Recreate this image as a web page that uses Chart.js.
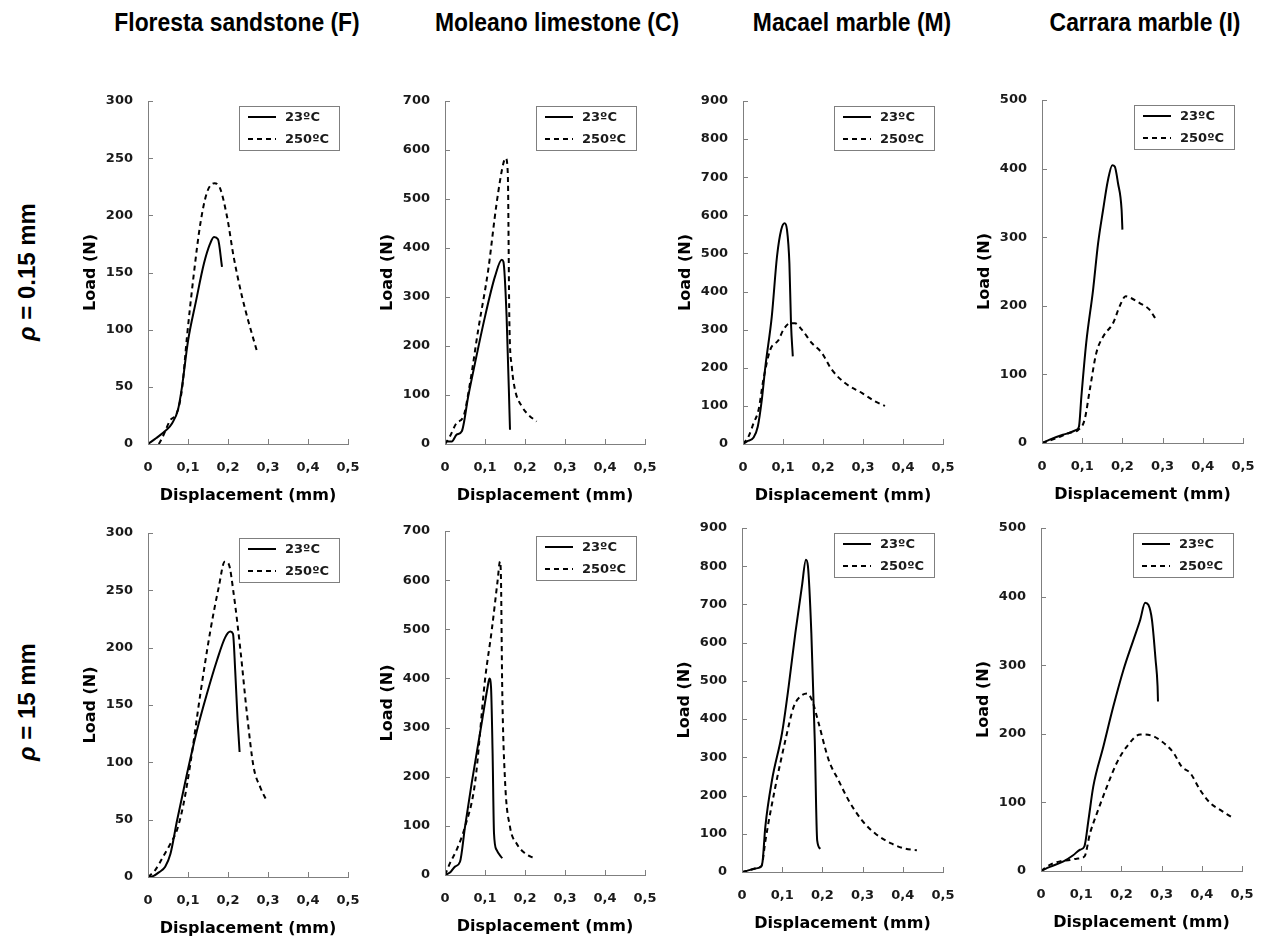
<!DOCTYPE html>
<html>
<head>
<meta charset="utf-8">
<script src="https://cdn.jsdelivr.net/npm/chart.js@4.4.1/dist/chart.umd.min.js"></script>
<style>
  html, body { margin: 0; padding: 0; background: #fff; overflow: hidden; }
  body { width: 1264px; height: 940px; position: relative; }
  canvas { position: absolute; }
  .colTitle, .rowTitle {
    position: absolute; white-space: nowrap; color: #000; font-weight: bold;
  }
  .colTitle {
    font-family: "Liberation Sans Narrow", "Liberation Sans", Arial, sans-serif; font-size: 26px;
    transform: translate(-50%, -50%) scaleX(0.88);
  }
  .rowTitle {
    font-family: "Liberation Sans", Arial, sans-serif; font-size: 24px;
    transform: translate(-50%, -50%) rotate(-90deg);
  }
</style>
</head>
<body>
<div class="colTitle" style="left:237px; top:22px;">Floresta sandstone (F)</div>
<div class="colTitle" style="left:557px; top:22px;">Moleano limestone (C)</div>
<div class="colTitle" style="left:852px; top:22px;">Macael marble (M)</div>
<div class="colTitle" style="left:1145px; top:22px;">Carrara marble (I)</div>
<div class="rowTitle" style="left:27px; top:272px;"><i>ρ</i> = 0.15 mm</div>
<div class="rowTitle" style="left:27px; top:702px;"><i>ρ</i> = 15 mm</div>

<canvas id="c1"></canvas><canvas id="c2"></canvas><canvas id="c3"></canvas><canvas id="c4"></canvas>
<canvas id="c5"></canvas><canvas id="c6"></canvas><canvas id="c7"></canvas><canvas id="c8"></canvas>

<script>
"use strict";

// DATA ----------------------------
const seriesLabels = ["23ºC", "250ºC"];
const xTicks = [0, 0.1, 0.2, 0.3, 0.4, 0.5];
const yMax = [300, 700, 900, 500];
const yStep = [50, 100, 100, 100];

// rho = 0.15 mm  ([displacement mm, load N])
const floresta015_23 = [[0,0],[0.02,5],[0.045,12],[0.06,18],[0.075,30],[0.085,50],[0.1,90],[0.12,125],[0.14,158],[0.155,175],[0.165,181],[0.175,179],[0.185,155]];
const floresta015_250 = [[0.027,0],[0.035,5],[0.056,21],[0.072,27],[0.085,48],[0.0975,94],[0.114,147],[0.131,193],[0.1475,220],[0.166,228],[0.177,226],[0.1975,199],[0.214,164],[0.235,129],[0.252,106],[0.2725,81]];
const moleano015_23 = [[0,0],[0.004,5],[0.017,5],[0.029,19],[0.042,26],[0.058,97],[0.075,165],[0.1,260],[0.125,342],[0.142,376],[0.146,372],[0.154,260],[0.1625,29]];
const moleano015_250 = [[0,0],[0.0125,16],[0.029,43],[0.046,56],[0.0625,124],[0.083,233],[0.108,355],[0.129,491],[0.146,573],[0.152,583],[0.157,552],[0.161,247],[0.167,158],[0.175,111],[0.192,77],[0.208,60],[0.229,46]];
const macael015_23 = [[0,0],[0.01,7],[0.0265,17],[0.037,46],[0.047,116],[0.056,204],[0.072,335],[0.085,492],[0.0955,562],[0.104,579],[0.11,562],[0.116,474],[0.12,317],[0.1245,230]];
const macael015_250 = [[0,0],[0.014,20],[0.0266,55],[0.039,90],[0.051,169],[0.068,247],[0.089,273],[0.101,300],[0.118,317],[0.13,317],[0.147,300],[0.172,265],[0.197,239],[0.222,195],[0.255,160],[0.297,134],[0.33,112],[0.355,100]];
const carrara015_23 = [[0,0],[0.019,5],[0.052,12],[0.069,15],[0.0855,19],[0.092,24],[0.098,68],[0.11,146],[0.127,223],[0.1395,291],[0.152,340],[0.164,383],[0.175,405],[0.181,403],[0.189,379],[0.198,340],[0.2,311]];
const carrara015_250 = [[0,0],[0.036,7],[0.069,15],[0.09,19],[0.106,34],[0.119,78],[0.135,131],[0.152,155],[0.177,175],[0.193,199],[0.208,214],[0.2225,211],[0.243,204],[0.268,194],[0.2815,182]];

// rho = 15 mm
const floresta15_23 = [[0,0],[0.014,1],[0.027,4],[0.043,9],[0.056,20],[0.0725,49],[0.0975,90],[0.1225,128],[0.1475,160],[0.1725,189],[0.193,209],[0.206,214],[0.2125,212],[0.218,180],[0.224,137],[0.229,109]];
const floresta15_250 = [[0,0],[0.018,6],[0.035,16],[0.056,29],[0.0725,41],[0.089,64],[0.106,99],[0.131,160],[0.156,215],[0.177,253],[0.1917,275],[0.2017,273],[0.2142,247],[0.231,198],[0.2475,142],[0.264,96],[0.281,78],[0.296,67]];
const moleano15_23 = [[0,0],[0.0125,5],[0.025,17],[0.0375,27],[0.05,98],[0.0667,187],[0.0917,309],[0.1067,383],[0.111,400],[0.115,383],[0.119,248],[0.1225,85],[0.129,51],[0.143,34]];
const moleano15_250 = [[0,0],[0.0125,24],[0.029,51],[0.05,98],[0.075,187],[0.1,397],[0.117,499],[0.1317,600],[0.1375,638],[0.14,600],[0.143,383],[0.15,193],[0.1625,98],[0.179,64],[0.2,44],[0.223,34]];
const macael15_23 = [[0,0],[0.012,3],[0.033,9],[0.0456,13],[0.051,26],[0.058,118],[0.0746,240],[0.0995,363],[0.116,485],[0.1327,625],[0.149,747],[0.159,817],[0.164,800],[0.1725,625],[0.181,345],[0.187,83],[0.195,61]];
const macael15_250 = [[0,0],[0.012,3],[0.033,9],[0.0456,13],[0.05,20],[0.058,80],[0.083,223],[0.108,345],[0.1285,432],[0.145,459],[0.1617,467],[0.174,450],[0.1907,389],[0.2156,293],[0.24,240],[0.265,188],[0.2985,135],[0.332,100],[0.373,74],[0.406,61],[0.435,57]];
const carrara15_23 = [[0,0],[0.022,6],[0.056,14],[0.08,23],[0.097,31],[0.108,36],[0.118,74],[0.13,123],[0.155,181],[0.18,240],[0.205,293],[0.23,337],[0.2467,366],[0.259,391],[0.267,388],[0.276,366],[0.285,308],[0.29,269],[0.291,247]];
const carrara15_250 = [[0,0],[0.022,9],[0.047,14],[0.072,16],[0.089,18],[0.108,21],[0.122,55],[0.139,84],[0.164,123],[0.188,157],[0.213,181],[0.247,199],[0.272,198],[0.3,189],[0.33,172],[0.35,152],[0.371,143],[0.396,118],[0.421,99],[0.446,89],[0.473,79]];

// LAYOUT --------------------------
// plot area of each panel: [axis x, right, top, bottom]
const panels = [
  { id: "c1", col: 0, area: [148, 348, 101, 444], a: floresta015_23, b: floresta015_250 },
  { id: "c2", col: 1, area: [445, 645, 101, 444], a: moleano015_23, b: moleano015_250 },
  { id: "c3", col: 2, area: [743, 943, 101, 444], a: macael015_23, b: macael015_250 },
  { id: "c4", col: 3, area: [1042, 1243, 100, 443], a: carrara015_23, b: carrara015_250 },
  { id: "c5", col: 0, area: [148, 348, 533, 877], a: floresta15_23, b: floresta15_250 },
  { id: "c6", col: 1, area: [445, 645, 531, 875], a: moleano15_23, b: moleano15_250 },
  { id: "c7", col: 2, area: [742, 943, 528, 872], a: macael15_23, b: macael15_250 },
  { id: "c8", col: 3, area: [1041, 1242, 528, 871], a: carrara15_23, b: carrara15_250 }
];

const Y_AXIS_W = 80;
const X_AXIS_H = 63;
const PAD_TOP = 20;
const PAD_RIGHT = 20;
const AXIS_COLOR = "#7f7f7f";
const TEXT_COLOR = "#1a1a1a";
const FONT = "'DejaVu Sans', Verdana, sans-serif";

// PLUGINS -------------------------

// inward tick marks on both axes
const innerTicks = {
  id: "innerTicks",
  afterDraw(chart) {
    const { ctx, chartArea, scales } = chart;
    ctx.save();
    ctx.strokeStyle = AXIS_COLOR;
    ctx.lineWidth = 1;
    ctx.beginPath();
    scales.x.ticks.forEach(t => {
      const px = Math.round(scales.x.getPixelForValue(t.value)) + 0.5;
      ctx.moveTo(px, chartArea.bottom);
      ctx.lineTo(px, chartArea.bottom - 5);
    });
    scales.y.ticks.forEach(t => {
      const py = Math.round(scales.y.getPixelForValue(t.value)) + 0.5;
      ctx.moveTo(chartArea.left, py);
      ctx.lineTo(chartArea.left + 5, py);
    });
    ctx.stroke();
    ctx.restore();
  }
};

// boxed legend in the top right corner of the plot area
const boxLegend = {
  id: "boxLegend",
  afterDatasetsDraw(chart) {
    const { ctx, chartArea } = chart;
    const w = 100, h = 44;
    const x = chartArea.right - 9 - w;
    const y = chartArea.top + 5;
    ctx.save();
    ctx.fillStyle = "#fff";
    ctx.fillRect(x, y, w, h);
    ctx.strokeStyle = AXIS_COLOR;
    ctx.lineWidth = 1;
    ctx.strokeRect(Math.round(x) + 0.5, Math.round(y) + 0.5, w, h);
    chart.data.datasets.forEach((ds, i) => {
      const ly = y + 11 + i * 22;
      ctx.strokeStyle = ds.borderColor;
      ctx.lineWidth = ds.borderWidth;
      ctx.setLineDash(ds.borderDash || []);
      ctx.beginPath();
      ctx.moveTo(x + 9, ly);
      ctx.lineTo(x + 37, ly);
      ctx.stroke();
      ctx.setLineDash([]);
      ctx.fillStyle = TEXT_COLOR;
      ctx.font = "bold 13px " + FONT;
      ctx.textBaseline = "middle";
      ctx.fillText(ds.label, x + 46, ly + 1);
    });
    ctx.restore();
  }
};

// CHARTS --------------------------
function toPoints(pairs) {
  return pairs.map(([x, y]) => ({ x, y }));
}

function makeChart(p) {
  const [ax, right, top, bottom] = p.area;
  const canvas = document.getElementById(p.id);
  const w = (right - ax) + Y_AXIS_W + PAD_RIGHT;
  const h = (bottom - top) + PAD_TOP + X_AXIS_H;
  canvas.width = w;
  canvas.height = h;
  canvas.style.width = w + "px";
  canvas.style.height = h + "px";
  canvas.style.left = (ax - Y_AXIS_W) + "px";
  canvas.style.top = (top - PAD_TOP) + "px";

  return new Chart(canvas.getContext("2d"), {
    type: "scatter",
    data: {
      datasets: [
        { label: seriesLabels[0], data: toPoints(p.a), borderDash: [] },
        { label: seriesLabels[1], data: toPoints(p.b), borderDash: [5, 4] }
      ].map(ds => Object.assign(ds, {
        showLine: true,
        borderColor: "#000",
        borderWidth: 2,
        pointRadius: 0,
        cubicInterpolationMode: "monotone"
      }))
    },
    options: {
      responsive: false,
      animation: false,
      devicePixelRatio: 1,
      layout: { padding: { top: PAD_TOP, right: PAD_RIGHT, left: 0, bottom: 0 } },
      plugins: { legend: { display: false }, tooltip: { enabled: false } },
      scales: {
        x: {
          type: "linear",
          min: 0,
          max: 0.5,
          afterFit: s => { s.height = X_AXIS_H; s.paddingLeft = 0; s.paddingRight = 0; },
          afterBuildTicks: s => { s.ticks = xTicks.map(v => ({ value: v })); },
          grid: { display: true, drawOnChartArea: false, drawTicks: false },
          border: { color: AXIS_COLOR, width: 1 },
          ticks: {
            padding: 16,
            color: TEXT_COLOR,
            font: { family: FONT, size: 13, weight: "bold" },
            maxRotation: 0,
            autoSkip: false,
            callback: v => v === 0 ? "0" : v.toFixed(1).replace(".", ",")
          },
          title: {
            display: true,
            text: "Displacement (mm)",
            color: "#000",
            font: { family: FONT, size: 16, weight: "bold" },
            padding: { top: 0, bottom: 2 }
          }
        },
        y: {
          type: "linear",
          min: 0,
          max: yMax[p.col],
          afterFit: s => { s.width = Y_AXIS_W; s.paddingTop = 0; s.paddingBottom = 0; },
          grid: { display: true, drawOnChartArea: false, drawTicks: false },
          border: { color: AXIS_COLOR, width: 1 },
          ticks: {
            stepSize: yStep[p.col],
            padding: 15,
            color: TEXT_COLOR,
            autoSkip: false,
            font: { family: FONT, size: 13, weight: "bold" }
          },
          title: {
            display: true,
            text: "Load (N)",
            color: "#000",
            font: { family: FONT, size: 16, weight: "bold" },
            padding: { top: 13, bottom: 0 }
          }
        }
      }
    },
    plugins: [innerTicks, boxLegend]
  });
}

panels.forEach(makeChart);
</script>
</body>
</html>
